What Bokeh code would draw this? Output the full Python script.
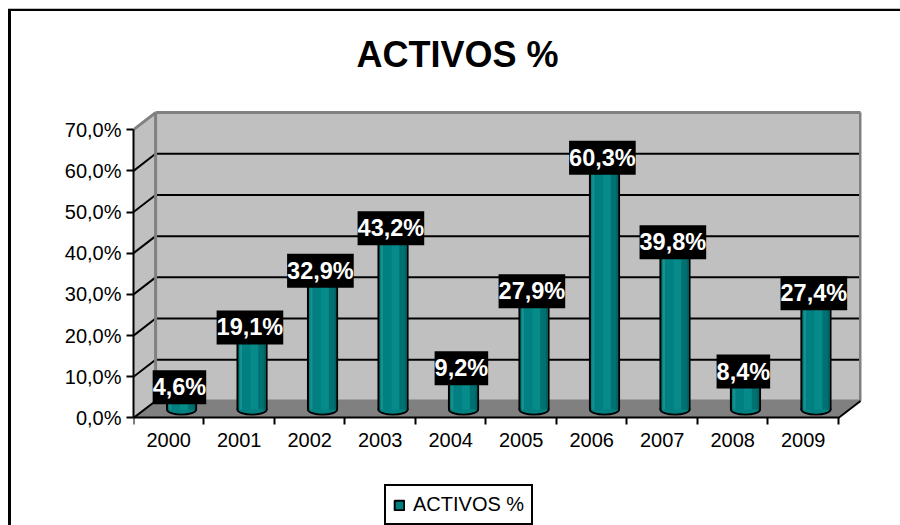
from bokeh.plotting import figure
from bokeh.models import FixedTicker, Legend, LegendItem, ColumnDataSource
from bokeh.embed import file_html
from bokeh.resources import INLINE
from bokeh.core.properties import value

years = ["2000","2001","2002","2003","2004","2005","2006","2007","2008","2009"]
activos = [4.6,19.1,32.9,43.2,9.2,27.9,60.3,39.8,8.4,27.4]
y_ticks = [0,10,20,30,40,50,60,70]
title = "ACTIVOS %"

PX_X, PX_Y = 70.2, 4.1            # px per category / per percent
DX, DY = 22/PX_X, 17/PX_Y         # depth of the box
N = len(years)
L = 122; T = 82; FW = 725; FH = 323; FIG_W = 889; FIG_H = 514
BELOW = FIG_H - T - FH            # room under the 0 line, kept inside the frame for axis labels and legend

p = figure(width=FIG_W, height=FIG_H, output_backend="svg", toolbar_location=None,
           x_range=(0, FW/PX_X), y_range=(-BELOW/PX_Y, FH/PX_Y),
           min_border_left=L, min_border_top=T, min_border_right=FIG_W-L-FW,
           min_border_bottom=0, outline_line_color=None,
           background_fill_color="white", border_fill_color="white")
p.margin = (9, 0, 0, 8)
p.styles = {"border-left": "3px solid black", "border-top": "2px solid black",
            "box-shadow": "0 -1px 0 #C0C0C0", "box-sizing": "content-box"}
p.grid.visible = False
p.title.text = title
p.title.text_font = "Liberation Sans"
p.title.text_font_size = "36px"
p.title.text_font_style = "bold"
p.title.align = "left"
p.title.offset = 223
p.title.standoff = 38
p.title.text_color = "black"

# walls and floor
WALL, FLOOR, EDGE = "#C0C0C0", "#808080", "#808080"
p.patch([0,DX,DX,0],[0,DY,70+DY,70], fill_color=WALL, line_color=None)
p.patch([DX,N+DX,N+DX,DX],[DY,DY,70+DY,70+DY], fill_color=WALL, line_color=None)
p.patch([0,N,N+DX,DX],[0,0,DY,DY], fill_color=FLOOR, line_color=None)

# gridlines
gt = y_ticks[1:-1]
p.segment([0]*len(gt),gt,[DX]*len(gt),[t+DY for t in gt], line_color="black", line_width=2)
p.segment([DX]*len(gt),[t+DY for t in gt],[N+DX]*len(gt),[t+DY for t in gt], line_color="black", line_width=2)
p.segment([DX,N+DX,DX,DX,0],[DY,DY,70+DY,DY,70],[DX,N+DX,N+DX,N+DX,DX],[70+DY,70+DY,70+DY,DY,70+DY],
          line_color=EDGE, line_width=3)
p.segment([0,N],[0,0],[DX,N+DX],[DY,DY], line_color="black", line_width=2)

# bars
xc = [i+0.5+DX/2+0.025 for i in range(N)]
base = DY/2
top = [v+DY/2 for v in activos]
BW = 29/PX_X
EH = 10/PX_Y
p.ellipse(xc,[base]*N,width=BW,height=EH,fill_color="#008080",line_color="black",line_width=2)
bars = p.vbar(xc,BW,[base]*N,top,fill_color="#008080",line_color="black",line_width=2)
p.ellipse(xc,[base]*N,width=BW-2/PX_X,height=EH-2/PX_Y,fill_color="#008080",line_color=None)
stripes = [(-0.42,-0.34,"#1A8F8F"),(-0.34,-0.05,"#008080"),(-0.05,0.22,"#068A8A"),(0.22,0.40,"#007070"),(0.40,0.47,"#006464")]
for a,b,c in stripes:
    p.vbar([x+(a+b)/2*BW for x in xc],(b-a)*BW,[base]*N,top,fill_color=c,line_color=None)

# data labels
src = ColumnDataSource(dict(x=[x-0.03 for x in xc], y=[t+0.8 for t in top],
                            t=[f"{v:.1f}%".replace(".",",") for v in activos]))
p.text("x","y",text="t",source=src,text_font=value("Liberation Sans"),text_font_size="23.5px",
       text_font_style="bold",text_color="white",text_align="center",text_baseline="middle",
       background_fill_color="black",padding=(0,4))

# axes
xa = p.xaxis[0]
xa.fixed_location = 0
xa.bounds = (0,N)
xa.ticker = FixedTicker(ticks=[i+0.5 for i in range(N)], minor_ticks=list(range(N+1)))
xa.major_label_overrides = {i+0.5: y for i,y in enumerate(years)}
xa.major_tick_out = 0; xa.major_tick_in = 0
xa.minor_tick_out = 7; xa.minor_tick_in = 0
xa.minor_tick_line_color = "black"; xa.minor_tick_line_width = 2
xa.axis_line_color = "black"; xa.axis_line_width = 2
xa.major_label_text_font = "Liberation Sans"; xa.major_label_text_font_size = "20px"
xa.major_label_text_color = "black"; xa.major_label_standoff = 8

ya = p.yaxis[0]
ya.bounds = (0,70)
ya.ticker = FixedTicker(ticks=y_ticks)
ya.major_label_overrides = {t: f"{t},0%" for t in y_ticks}
ya.major_tick_out = 7; ya.major_tick_in = 0
ya.major_tick_line_color = "black"; ya.major_tick_line_width = 2
ya.minor_tick_line_color = None
ya.axis_line_color = "black"; ya.axis_line_width = 2
ya.major_label_text_font = "Liberation Sans"; ya.major_label_text_font_size = "20px"
ya.major_label_text_color = "black"; ya.major_label_standoff = 5

leg = Legend(items=[LegendItem(label=title, renderers=[bars])],
             location=(251, 2), orientation="horizontal",
             label_text_font="Liberation Sans", label_text_font_size="20px", label_text_color="black",
             border_line_color="black", border_line_alpha=1, border_line_width=2, background_fill_color="white",
             background_fill_alpha=1, glyph_width=12, glyph_height=12, padding=7, margin=0, spacing=0,
             label_standoff=8)
p.add_layout(leg)

open("out.html","w").write(file_html(p, INLINE))
